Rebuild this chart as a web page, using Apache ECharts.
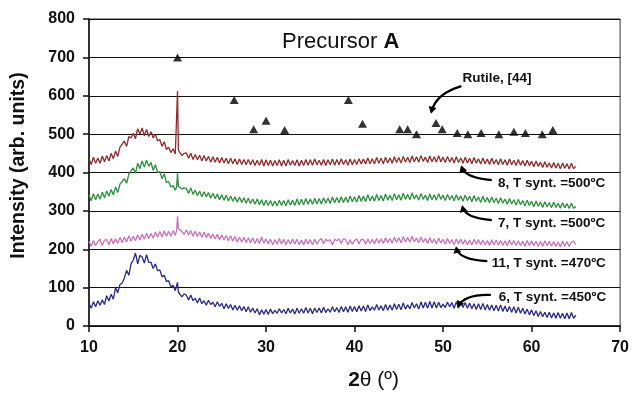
<!DOCTYPE html>
<html>
<head>
<meta charset="utf-8">
<script src="https://cdn.jsdelivr.net/npm/echarts@6/dist/echarts.min.js"></script>
<style>
html,body{margin:0;padding:0;background:#fff;}
#main{width:632px;height:397px;}
</style>
</head>
<body>
<div id="main"></div>
<script>
// 2θ positions (degrees)
const twoTheta = [
10,10.25,10.5,10.75, 11,11.25,11.5,11.75, 12,12.25,12.5,12.75, 13,13.25,13.5,13.75,
14,14.25,14.5,14.75, 15,15.25,15.5,15.75, 16,16.25,16.5,16.75, 17,17.25,17.5,17.75,
18,18.25,18.5,18.75, 19,19.25,19.5,19.75,19.9, 20,20.1,20.25,20.5,20.75,
21,21.25,21.5,21.75, 22,22.25,22.5,22.75, 23,23.25,23.5,23.75, 24,24.25,24.5,24.75,
25,25.25,25.5,25.75, 26,26.25,26.5,26.75, 27,27.25,27.5,27.75, 28,28.25,28.5,28.75,
29,29.25,29.5,29.75, 30,30.25,30.5,30.75, 31,31.25,31.5,31.75, 32,32.25,32.5,32.75,
33,33.25,33.5,33.75, 34,34.25,34.5,34.75, 35,35.25,35.5,35.75, 36,36.25,36.5,36.75,
37,37.25,37.5,37.75, 38,38.25,38.5,38.75, 39,39.25,39.5,39.75, 40,40.25,40.5,40.75,
41,41.25,41.5,41.75, 42,42.25,42.5,42.75, 43,43.25,43.5,43.75, 44,44.25,44.5,44.75,
45,45.25,45.5,45.75, 46,46.25,46.5,46.75, 47,47.25,47.5,47.75, 48,48.25,48.5,48.75,
49,49.25,49.5,49.75, 50,50.25,50.5,50.75, 51,51.25,51.5,51.75, 52,52.25,52.5,52.75,
53,53.25,53.5,53.75, 54,54.25,54.5,54.75, 55,55.25,55.5,55.75, 56,56.25,56.5,56.75,
57,57.25,57.5,57.75, 58,58.25,58.5,58.75, 59,59.25,59.5,59.75, 60,60.25,60.5,60.75,
61,61.25,61.5,61.75, 62,62.25,62.5,62.75, 63,63.25,63.5,63.75, 64,64.25,64.5,64.75,
65
];
// Sample 6, T synt. = 450ºC
const sample6 = [
60,46,63,50, 66,54,68,56, 79,65,83,70, 100,87,108,112,
126,145,132,162, 172,190,162,184, 180,164,186,166, 166,150,162,144,
146,128,132,116, 118,102,106,92,94, 114,88,90,76,84,
80,68,81,66, 72,60,73,58, 66,54,67,56, 62,50,63,51,
59,45,58,46, 56,42,54,41, 53,40,51,37, 50,36,47,34,
45,29,42,31, 43,30,44,32, 41,33,45,34, 43,32,46,34,
44,31,46,33, 45,33,48,34, 46,32,47,35, 47,34,49,35,
45,36,50,37, 48,35,51,37, 50,36,52,38, 51,37,53,39,
52,38,55,40, 50,41,56,42, 53,40,56,41, 55,41,58,43,
57,42,60,44, 55,45,61,47, 58,44,63,47, 62,46,64,47,
63,47,62,48, 57,48,62,50, 61,46,63,47, 64,48,61,46,
60,45,58,43, 58,43,59,42, 56,41,55,40, 54,39,55,38,
52,37,51,36, 50,34,49,33, 46,31,44,29, 42,27,40,25,
38,24,36,22, 36,21,34,20, 35,20,33,19, 34,19,35,20,
28
];
// Sample 11, T synt. = 470ºC
const sample11 = [
221,208,223,209, 220,226,210,224, 225,212,228,214, 227,215,231,217,
232,219,235,221, 234,222,238,224, 240,226,242,228, 241,229,245,231,
246,232,248,234, 247,234,249,236,250, 286,254,250,246,239,
251,237,249,234, 247,233,245,231, 244,230,242,228, 240,227,239,225,
237,224,236,222, 235,221,233,219, 232,219,231,217, 230,217,229,215,
228,215,232,216, 227,214,226,212, 225,213,228,214, 226,212,225,213,
227,214,226,212, 224,211,227,214, 225,212,226,213, 223,228,214,226,
221,225,212,226, 222,227,215,228, 224,212,225,213, 223,227,214,226,
225,213,227,215, 226,214,228,216, 227,215,230,217, 228,216,231,218,
230,217,233,219, 231,218,234,220, 229,217,232,218, 228,215,230,217,
227,214,229,216, 226,213,228,215, 225,212,227,214, 226,213,225,212,
224,211,226,213, 225,212,224,211, 223,210,225,212, 224,211,223,210,
222,209,224,211, 223,210,222,209, 221,208,223,210, 222,209,221,208,
220,207,222,209, 221,208,220,207, 219,206,221,208, 220,207,219,221,
212
];
// Sample 7, T synt. = 500ºC
const sample7 = [
342,326,345,329, 344,330,349,334, 352,338,356,342, 362,348,370,376,
384,372,396,404, 412,398,424,410, 430,414,432,416, 426,406,420,400,
402,384,396,374, 376,362,366,354,362, 398,364,368,357,360,
358,345,360,343, 354,340,352,337, 350,336,348,333, 346,332,344,329,
342,328,341,326, 339,325,337,323, 336,322,334,320, 333,319,331,317,
331,316,329,314, 328,314,327,313, 326,313,328,314, 327,313,329,315,
328,314,331,316, 330,316,332,317, 331,317,333,318, 332,318,334,320,
333,319,336,321, 335,321,337,322, 336,322,339,324, 337,323,340,325,
338,324,342,326, 339,325,343,327, 340,326,344,328, 341,327,345,329,
342,328,346,330, 343,329,347,331, 342,328,345,330, 341,327,344,329,
342,328,345,330, 341,327,343,329, 340,326,342,328, 339,325,341,327,
338,324,340,325, 336,322,338,323, 335,321,336,322, 333,319,334,320,
331,317,332,318, 329,315,330,316, 327,313,328,314, 325,311,326,312,
323,309,324,310, 322,308,323,309, 320,307,321,308, 319,306,320,307,
311
];
// Sample 8, T synt. = 500ºC
const sample8 = [
436,421,440,424, 438,424,443,428, 444,430,450,436, 456,442,466,474,
482,468,494,490, 502,488,514,500, 516,496,512,494, 506,490,500,482,
486,468,480,460, 466,452,462,448,452, 612,458,456,444,450,
451,437,450,434, 447,433,445,430, 444,430,442,427, 441,427,440,425,
439,425,437,423, 437,423,435,421, 435,421,434,420, 434,420,433,418,
432,419,434,417, 433,418,432,417, 431,418,433,417, 432,417,434,419,
431,418,433,417, 432,418,434,419, 433,419,435,420, 432,419,434,418,
433,420,435,419, 434,420,436,421, 433,419,435,420, 434,421,436,422,
435,422,438,423, 436,422,439,424, 437,423,440,425, 438,424,441,426,
439,425,442,427, 440,426,443,428, 441,427,444,429, 440,426,443,428,
441,427,444,428, 440,426,442,427, 439,425,441,426, 438,424,440,425,
437,423,439,424, 436,422,438,423, 435,421,437,422, 434,420,436,421,
433,419,435,420, 432,418,434,419, 431,417,432,418, 429,415,430,416,
427,413,428,414, 425,412,426,412, 424,410,425,411, 423,409,424,410,
416
];
// Rutile reference peaks [44]
const rutileX = [20,26.4,28.6,30,32.1,39.3,40.9,45.1,46,47,49.2,49.9,51.6,52.8,54.3,56.3,58,59.3,61.2,62.4];
const rutileY = [700,589,513,535,511,589,527,513,513,500,529,513,503,500,503,500,506,503,500,511];
// axis ticks
const xTicks = [10,20,30,40,50,60,70];
const yTicks = [0,100,200,300,400,500,600,700,800];

const seriesNames = ['6, T synt. =450ºC','11, T synt. =470ºC','7, T synt. =500ºC','8, T synt. =500ºC'];
const seriesValues = [sample6, sample11, sample7, sample8];
const seriesColors = ['#2c2a84','#c873b8','#2e8e3e','#8c2c2c'];

const chart = echarts.init(document.getElementById('main'), null, {renderer:'canvas'});
const FONT = 'Liberation Sans, Arial, sans-serif';

const lineSeries = seriesValues.map((vals, i) => ({
  type: 'line',
  name: seriesNames[i],
  data: twoTheta.map((x, j) => [x, vals[j]]),
  showSymbol: false,
  symbol: 'none',
  sampling: null,
  lineStyle: {color: seriesColors[i], width: 1.3},
  z: 3
}));

chart.setOption({
  animation: false,
  backgroundColor: '#fff',
  grid: {left: 89, right: 11, top: 19, bottom: 71, show: true, borderColor: '#333', borderWidth: 1},
  xAxis: {
    type: 'value', min: xTicks[0], max: xTicks[xTicks.length-1], interval: 10,
    axisLine: {show: true, lineStyle: {color: '#111', width: 1.5}},
    axisTick: {show: true, length: 6, lineStyle: {color: '#111', width: 1.5}},
    axisLabel: {color: '#111', fontSize: 16, fontWeight: 'bold', fontFamily: FONT, margin: 14},
    splitLine: {show: false},
    name: '{b|2}{n|θ (º)}',
    nameLocation: 'middle', nameGap: 44,
    nameTextStyle: {
      padding: [0,0,0,38],
      rich: {
        b: {fontSize: 21, fontWeight: 'bold', fontFamily: FONT, color: '#111'},
        n: {fontSize: 21, fontFamily: FONT, color: '#111'}
      }
    }
  },
  yAxis: {
    type: 'value', min: yTicks[0], max: yTicks[yTicks.length-1], interval: 100,
    axisLine: {show: true, lineStyle: {color: '#111', width: 1.5}},
    axisTick: {show: true, length: 6, lineStyle: {color: '#111', width: 1.5}},
    axisLabel: {color: '#111', fontSize: 16, fontWeight: 'bold', fontFamily: FONT, margin: 14},
    splitLine: {show: true, lineStyle: {color: '#111', width: 1.2}},
    name: 'Intensity (arb. units)',
    nameLocation: 'middle', nameGap: 60,
    nameTextStyle: {fontSize: 19.5, fontWeight: 'bold', fontFamily: FONT, color: '#111', padding: [0,0,0,14]}
  },
  series: lineSeries.concat([{
    type: 'scatter',
    name: 'Rutile, [44]',
    data: rutileX.map((x, j) => [x, rutileY[j]]),
    symbol: 'triangle', symbolSize: [9, 8],
    itemStyle: {color: '#000'},
    z: 4
  }])
});

// annotations (in data coordinates)
const titlePos = [31.8, 741];
const labels = [
  {text: 'Rutile, [44]', at: [52.2, 646]},
  {text: '8, T synt. =500ºC', at: [56.2, 372]},
  {text: '7, T synt. =500ºC', at: [56.2, 268]},
  {text: '11, T synt. =470ºC', at: [55.5, 164]},
  {text: '6, T synt. =450ºC', at: [56.3, 76]}
];
const arrows = [
  {from: [52.07, 625], ctrl: [49.2, 606], to: [48.68, 558]},
  {from: [55.5, 380], ctrl: [52.5, 386], to: [52.1, 414]},
  {from: [55.5, 276], ctrl: [52.5, 281], to: [52.2, 310]},
  {from: [55.0, 169], ctrl: [51.8, 172], to: [51.5, 203]},
  {from: [55.4, 81], ctrl: [52.5, 84], to: [51.7, 52]}
];

function px(p){ return chart.convertToPixel({gridIndex: 0}, p); }

const graphics = [];
const tp = px(titlePos);
graphics.push({
  type: 'text', x: tp[0], y: tp[1], z: 10,
  style: {
    text: '{n|Precursor }{b|A}',
    rich: {
      n: {fontSize: 22, fontFamily: FONT, fill: '#111'},
      b: {fontSize: 22, fontWeight: 'bold', fontFamily: FONT, fill: '#111'}
    },
    verticalAlign: 'middle', align: 'left'
  }
});
labels.forEach(l => {
  const p = px(l.at);
  graphics.push({
    type: 'text', x: p[0], y: p[1], z: 10,
    style: {text: l.text, fontSize: 13.5, fontWeight: 'bold', fontFamily: FONT, fill: '#111', verticalAlign: 'middle', align: 'left'}
  });
});
arrows.forEach(a => {
  const s = px(a.from), c = px(a.ctrl), e = px(a.to);
  graphics.push({
    type: 'bezierCurve', z: 10,
    shape: {x1: s[0], y1: s[1], cpx1: c[0], cpy1: c[1], x2: e[0], y2: e[1]},
    style: {stroke: '#000', lineWidth: 2.2, fill: null}
  });
  const ang = Math.atan2(e[1]-c[1], e[0]-c[0]);
  const L = 7, W = 4;
  const tip = [e[0] + Math.cos(ang)*2, e[1] + Math.sin(ang)*2];
  const b1 = [tip[0] - Math.cos(ang)*L - Math.sin(ang)*W, tip[1] - Math.sin(ang)*L + Math.cos(ang)*W];
  const b2 = [tip[0] - Math.cos(ang)*L + Math.sin(ang)*W, tip[1] - Math.sin(ang)*L - Math.cos(ang)*W];
  graphics.push({
    type: 'polygon', z: 10,
    shape: {points: [tip, b1, b2]},
    style: {fill: '#000'}
  });
});
chart.setOption({graphic: graphics});
</script>
</body>
</html>
